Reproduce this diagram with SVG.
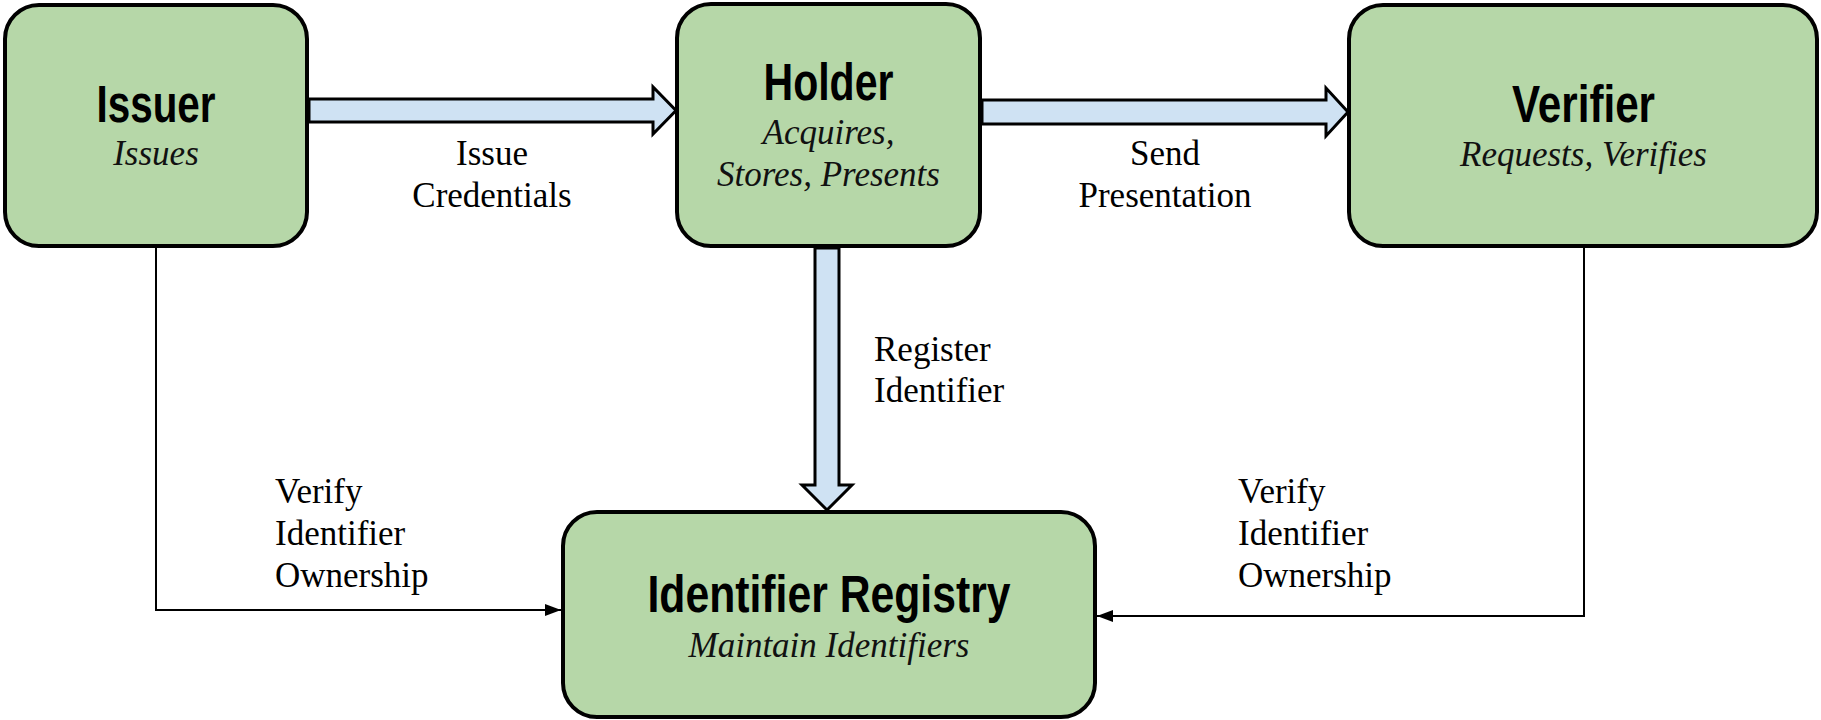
<svg xmlns="http://www.w3.org/2000/svg" width="1821" height="720" viewBox="0 0 1821 720">
<defs>
<style>
.box{fill:#b6d7a8;stroke:#000;stroke-width:4}
.title{font-family:"Liberation Sans Narrow","Liberation Sans",Arial,sans-serif;font-weight:bold;font-size:51px;fill:#000;text-anchor:middle}
.sub{font-family:"Liberation Serif","DejaVu Serif",serif;font-style:italic;font-size:35px;fill:#111;text-anchor:middle}
.lbl{font-family:"Liberation Serif","DejaVu Serif",serif;font-size:35px;fill:#000}
.mid{text-anchor:middle}
.block{fill:#cfe2f3;stroke:#000;stroke-width:3;stroke-linejoin:miter}
.thin{fill:none;stroke:#000;stroke-width:2}
</style>
<marker id="ah" markerWidth="16" markerHeight="12" refX="16" refY="6" orient="auto" markerUnits="userSpaceOnUse">
<path d="M0,0 L16,6 L0,12 z" fill="#000"/>
</marker>
</defs>
<rect width="1821" height="720" fill="#fff"/>
<g id="nodes">
<g id="issuer">
<rect class="box" x="5" y="5" width="302" height="241" rx="34" ry="34"/>
<text class="title" x="156" y="122" textLength="119" lengthAdjust="spacingAndGlyphs">Issuer</text>
<text class="sub" x="156" y="165">Issues</text>
</g>
<g id="holder">
<rect class="box" x="677" y="4" width="303" height="242" rx="34" ry="34"/>
<text class="title" x="828.5" y="100" textLength="130" lengthAdjust="spacingAndGlyphs">Holder</text>
<text class="sub" x="828.5" y="144">Acquires,</text>
<text class="sub" x="828.5" y="186">Stores, Presents</text>
</g>
<g id="verifier">
<rect class="box" x="1349" y="5" width="468" height="241" rx="34" ry="34"/>
<text class="title" x="1583.5" y="122" textLength="143" lengthAdjust="spacingAndGlyphs">Verifier</text>
<text class="sub" x="1583.5" y="166">Requests, Verifies</text>
</g>
<g id="registry">
<rect class="box" x="563" y="512" width="532" height="205" rx="34" ry="34"/>
<text class="title" x="829" y="612" textLength="363" lengthAdjust="spacingAndGlyphs">Identifier Registry</text>
<text class="sub" x="829" y="657">Maintain Identifiers</text>
</g>
</g>
<g id="connectors">
<polygon class="block" points="309,99 653,99 653,87 676,110.5 653,134 653,122 309,122"/>
<polygon class="block" points="982,100 1326,100 1326,88 1348,112 1326,136 1326,124 982,124"/>
<polygon class="block" points="815,248 839,248 839,485 852,485 827,510 802,485 815,485"/>
<path class="thin" d="M156,248 V610 H561" marker-end="url(#ah)"/>
<path class="thin" d="M1584,248 V616 H1097" marker-end="url(#ah)"/>
<text class="lbl mid" x="492" y="165">Issue</text>
<text class="lbl mid" x="492" y="207">Credentials</text>
<text class="lbl mid" x="1165" y="165">Send</text>
<text class="lbl mid" x="1165" y="207">Presentation</text>
<text class="lbl" x="874" y="361">Register</text>
<text class="lbl" x="874" y="402">Identifier</text>
<text class="lbl" x="275" y="503">Verify</text>
<text class="lbl" x="275" y="545">Identifier</text>
<text class="lbl" x="275" y="587">Ownership</text>
<text class="lbl" x="1238" y="503">Verify</text>
<text class="lbl" x="1238" y="545">Identifier</text>
<text class="lbl" x="1238" y="587">Ownership</text>
</g>
</svg>
